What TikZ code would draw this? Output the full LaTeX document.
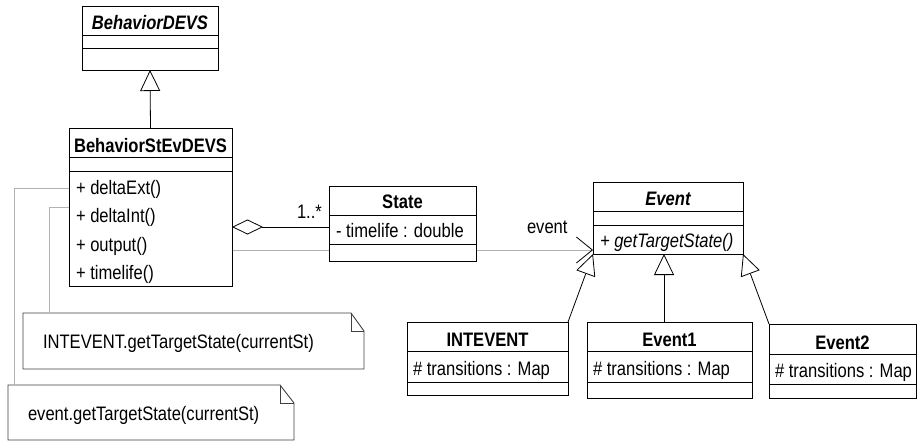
\documentclass[tikz,border=0pt]{standalone}
\usepackage{fontspec}
\newfontfamily\umlfont[FakeStretch=0.85]{Liberation Sans}
\usetikzlibrary{arrows.meta}
\pgfdeclarelayer{bg}
\pgfsetlayers{bg,main}
\newcommand\umlsize{\umlfont\fontsize{19.5}{23}\selectfont}
\begin{document}
\begin{tikzpicture}[x=1pt,y=-1pt,
  every node/.style={inner sep=0pt, outer sep=0pt},
  cls/.style={draw=black, fill=white, line width=0.9pt, anchor=north west},
  notebox/.style={anchor=north west},
  div/.style={draw=black, line width=0.9pt},
  noteline/.style={draw=black!75, line width=0.9pt, line join=miter},
  txt/.style={font=\umlsize, anchor=base west},
  ttl/.style={font=\umlsize\bfseries, anchor=base},
  ttli/.style={font=\umlsize\bfseries\itshape, anchor=base},
  gen/.style={draw=black, line width=0.8pt, -{Triangle[open,length=21pt,width=20pt,fill=white]}},
  agg/.style={draw=black, line width=0.8pt, {Diamond[open,length=31pt,width=15pt,fill=white]}-},
  assoc/.style={draw=black!30, line width=0.8pt, -{Straight Barb[length=16pt,width=26pt,color=black,line width=0.8pt]}},
  anchorline/.style={draw=black!30, line width=0.8pt}]
\useasboundingbox (0,0) rectangle (917,441);
\begin{pgfonlayer}{bg}
\fill[white] (0,0) rectangle (917,441);
\end{pgfonlayer}

% ---------- BehaviorDEVS ----------
\node[cls, minimum width=136pt, minimum height=64pt] (bdevs) at (82,6) {};
\draw[div] ([yshift=-29pt]bdevs.north west) -- ([yshift=-29pt]bdevs.north east);
\draw[div] ([yshift=-42pt]bdevs.north west) -- ([yshift=-42pt]bdevs.north east);
\node[ttli] (bdevsT) at ([yshift=-24pt]bdevs.north) {BehaviorDEVS};

% ---------- BehaviorStEvDEVS ----------
\node[cls, minimum width=163pt, minimum height=158pt] (bsd) at (69,128) {};
\draw[div] ([yshift=-29pt]bsd.north west) -- ([yshift=-29pt]bsd.north east);
\draw[div] ([yshift=-43pt]bsd.north west) -- ([yshift=-43pt]bsd.north east);
\node[ttl] (bsdT) at ([yshift=-24pt]bsd.north) {BehaviorStEvDEVS};
\node[txt] (bsd1) at ([xshift=7pt,yshift=-66pt]bsd.north west) {+ deltaExt()};
\node[txt] (bsd2) at ([xshift=7pt,yshift=-94.5pt]bsd.north west) {+ deltaInt()};
\node[txt] (bsd3) at ([xshift=7pt,yshift=-123pt]bsd.north west) {+ output()};
\node[txt] (bsd4) at ([xshift=7pt,yshift=-151.5pt]bsd.north west) {+ timelife()};

% ---------- State ----------
\node[cls, minimum width=147pt, minimum height=75pt] (state) at (329,186) {};
\draw[div] ([yshift=-29pt]state.north west) -- ([yshift=-29pt]state.north east);
\draw[div] ([yshift=-58pt]state.north west) -- ([yshift=-58pt]state.north east);
\node[ttl] (stateT) at ([yshift=-22pt]state.north) {State};
\node[txt] (state1) at ([xshift=7pt,yshift=-51pt]state.north west) {- timelife : double};

% ---------- Event ----------
\node[cls, minimum width=150pt, minimum height=72pt] (event) at (593,182) {};
\draw[div] ([yshift=-29pt]event.north west) -- ([yshift=-29pt]event.north east);
\draw[div] ([yshift=-43pt]event.north west) -- ([yshift=-43pt]event.north east);
\node[ttli] (eventT) at ([yshift=-23pt]event.north) {Event};
\node[txt, font=\umlsize\itshape] (event1) at ([xshift=7pt,yshift=-65pt]event.north west) {+ getTargetState()};

% ---------- INTEVENT ----------
\node[cls, minimum width=161pt, minimum height=73pt] (intev) at (407,322) {};
\draw[div] ([yshift=-29pt]intev.north west) -- ([yshift=-29pt]intev.north east);
\draw[div] ([yshift=-60pt]intev.north west) -- ([yshift=-60pt]intev.north east);
\node[ttl] (intevT) at ([yshift=-24pt]intev.north) {INTEVENT};
\node[txt] (intev1) at ([xshift=6pt,yshift=-53pt]intev.north west) {\# transitions : Map};

% ---------- Event1 ----------
\node[cls, minimum width=165pt, minimum height=76pt] (ev1) at (587,322) {};
\draw[div] ([yshift=-29pt]ev1.north west) -- ([yshift=-29pt]ev1.north east);
\draw[div] ([yshift=-60pt]ev1.north west) -- ([yshift=-60pt]ev1.north east);
\node[ttl] (ev1T) at ([yshift=-24pt]ev1.north) {Event1};
\node[txt] (ev11) at ([xshift=6pt,yshift=-53pt]ev1.north west) {\# transitions : Map};

% ---------- Event2 ----------
\node[cls, minimum width=147pt, minimum height=74pt] (ev2) at (769,324) {};
\draw[div] ([yshift=-30pt]ev2.north west) -- ([yshift=-30pt]ev2.north east);
\draw[div] ([yshift=-60pt]ev2.north west) -- ([yshift=-60pt]ev2.north east);
\node[ttl] (ev2T) at ([yshift=-25pt]ev2.north) {Event2};
\node[txt] (ev21) at ([xshift=6pt,yshift=-53pt]ev2.north west) {\# transitions : Map};

% ---------- Notes ----------
\node[notebox, minimum width=341pt, minimum height=56pt] (noteA) at (23,313) {};
\draw[noteline] (noteA.north west) -- ([xshift=-13pt]noteA.north east) -- ([yshift=-18pt]noteA.north east) -- (noteA.south east) -- (noteA.south west) -- cycle;
\draw[noteline] ([xshift=-13pt]noteA.north east) |- ([yshift=-18pt]noteA.north east);
\node[txt] (noteAT) at ([xshift=20pt,yshift=-35pt]noteA.north west) {INTEVENT.getTargetState(currentSt)};

\node[notebox, minimum width=286pt, minimum height=55pt] (noteB) at (8,385) {};
\draw[noteline] (noteB.north west) -- ([xshift=-14pt]noteB.north east) -- ([yshift=-18pt]noteB.north east) -- (noteB.south east) -- (noteB.south west) -- cycle;
\draw[noteline] ([xshift=-14pt]noteB.north east) |- ([yshift=-18pt]noteB.north east);
\node[txt] (noteBT) at ([xshift=20pt,yshift=-35pt]noteB.north west) {event.getTargetState(currentSt)};

% ---------- Connectors ----------
\draw[gen] (bsd.north) -- (bdevs.south);
\draw[agg] ([yshift=-99pt]bsd.north east) -- ([yshift=-41pt]state.north west);
\node[txt] (mult) at (297,218) {1..*};
\begin{pgfonlayer}{bg}
\draw[assoc] ([yshift=-122pt]bsd.north east) -- ([yshift=-68pt]event.north west);
\end{pgfonlayer}
\node[txt] (evlabel) at (527,233) {event};
\draw[gen] (intev.north east) -- (event.south west);
\draw[gen] ([xshift=-5.5pt]ev1.north) -- ([xshift=-5.5pt]ev1.north |- event.south);
\draw[gen] (ev2.north west) -- (event.south east);
\draw[anchorline] ([yshift=-60pt]bsd.north west) -| ([xshift=6pt]noteB.north west);
\draw[anchorline] ([yshift=-79pt]bsd.north west) -| ([xshift=26pt]noteA.north west);
\end{tikzpicture}
\end{document}
